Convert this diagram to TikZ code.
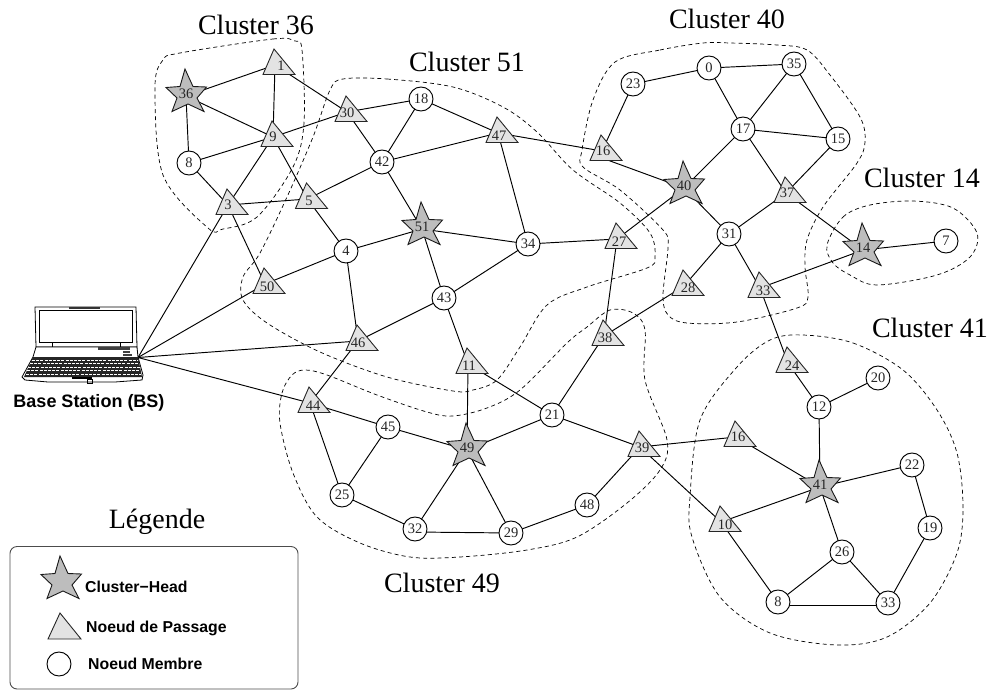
\documentclass[tikz,border=0pt]{standalone}
\usepackage{fontspec}
\setmainfont{Liberation Serif}
\setsansfont{Liberation Sans}
\usetikzlibrary{backgrounds}
\definecolor{trifill}{gray}{0.89}
\definecolor{starfill}{gray}{0.74}
\tikzset{
  link/.style={draw=black,line width=0.95pt},
  clusterline/.style={draw=black,line width=0.7pt,dash pattern=on 4pt off 3.2pt},
  trishape/.style={draw=black!85,fill=trifill,line width=0.9pt,line join=miter},
  starshape/.style={draw=black!90,fill=starfill,line width=0.9pt,line join=miter},
  hub/.style={inner sep=0pt,minimum size=0pt,outer sep=0pt},
  numtext/.style={inner sep=0pt,font=\fontsize{14.5}{15}\selectfont,text=black!85},
  circnodestyle/.style={circle,draw=black,fill=white,line width=0.95pt,minimum size=24pt,inner sep=0pt,font=\fontsize{14.5}{15}\selectfont,text=black!85},
  clustertitle/.style={inner sep=0pt,font=\fontsize{28}{30}\selectfont},
  legendtext/.style={anchor=west,inner sep=0pt,font=\sffamily\bfseries\fontsize{15.8}{17}\selectfont},
}
% name, apex x, apex y, label x, label y, text
\newcommand{\trinode}[6]{%
  \draw[trishape,shift={(#2,#3)}] (0,0) -- (-11,25.5) -- (21,25.5) -- cycle;
  \node[hub] (#1) at ([shift={(1,16)}]#2,#3) {};
  \node[numtext] (#1-text) at (#4,#5) {#6};
}
% name, x, y, text
\newcommand{\starnode}[4]{%
  \draw[starshape,shift={(#2,#3)}] (-1,-27) -- (7,-9.5) -- (20.5,-9) -- (11,2) -- (18,15.5) -- (2,8) -- (-14,15.5) -- (-9,2) -- (-20,-8.5) -- (-6,-9.5) -- cycle;
  \node[hub] (#1) at (#2,#3) {};
  \node[numtext] (#1-text) at (#2,#3-2) {#4};
}
\newcommand{\circnode}[4]{\node[circnodestyle] (#1) at (#2,#3) {#4};}
\begin{document}
\begin{tikzpicture}[x=1pt,y=-1pt]
\useasboundingbox (0,0) rectangle (992,690);

% stars
\starnode{s36}{186}{96}{36}
\starnode{s51}{422}{229}{51}
\starnode{s40}{684}{188}{40}
\starnode{s14}{863}{250}{14}
\starnode{s49}{467}{450}{49}
\starnode{s41}{820}{487}{41}

% triangles
\trinode{t1}{274}{49}{281}{66}{1}
\trinode{t9}{272}{121}{273}{137}{9}
\trinode{t3}{227}{189}{228}{205}{3}
\trinode{t5}{306.5}{183}{309}{200.5}{5}
\trinode{t30}{346}{96}{347}{113}{30}
\trinode{t47}{497}{117}{499}{136}{47}
\trinode{t27}{616}{223}{619}{242}{27}
\trinode{t50}{264}{268}{267}{287}{50}
\trinode{t46}{357}{325}{358}{343}{46}
\trinode{t11}{467}{348}{469}{366}{11}
\trinode{t38}{603}{320}{605}{338}{38}
\trinode{t16a}{601}{135}{603}{151}{16}
\trinode{t37}{785}{177}{787}{193}{37}
\trinode{t28}{683}{270}{688}{288}{28}
\trinode{t33}{759}{272}{763}{291}{33}
\trinode{t44}{309}{387}{313}{406}{44}
\trinode{t39}{639}{431}{642}{448}{39}
\trinode{t24}{787}{347}{792}{366}{24}
\trinode{t16b}{735}{421}{738}{437}{16}
\trinode{t10}{720}{506}{725}{525}{10}

% circles
\circnode{c8a}{189}{163}{8}
\circnode{c18}{421}{99}{18}
\circnode{c42}{382}{162}{42}
\circnode{c4}{346}{251}{4}
\circnode{c34}{528}{244}{34}
\circnode{c43}{444}{298}{43}
\circnode{c23}{633}{84}{23}
\circnode{c0}{709}{68}{0}
\circnode{c35}{794}{64}{35}
\circnode{c17}{743}{129}{17}
\circnode{c15}{838}{139}{15}
\circnode{c31}{729}{234}{31}
\circnode{c7}{946}{241}{7}
\circnode{c45}{388}{427}{45}
\circnode{c21}{552}{415}{21}
\circnode{c25}{342}{495}{25}
\circnode{c32}{415}{529}{32}
\circnode{c29}{511}{533}{29}
\circnode{c48}{587}{505}{48}
\circnode{c12}{819}{407}{12}
\circnode{c20}{878}{378}{20}
\circnode{c22}{912}{465}{22}
\circnode{c19}{930}{528}{19}
\circnode{c26}{842}{552}{26}
\circnode{c8b}{778}{602}{8}
\circnode{c33}{888}{603}{33}

% laptop
\node[hub] (bs) at (138,357.5) {};
\draw[line width=0.8pt,fill=white] (35,307) -- (136,307) -- (137,347) -- (36,347) -- cycle;
\draw[line width=0.8pt] (39,310) rectangle (132,342);
\fill[black!80] (69,306.5) rectangle (100,309);
\draw[line width=0.7pt] (52,342) -- (52,347) (120,342) -- (120,347) (52,342) -- (120,342);
\draw[line width=0.8pt,fill=white] (36,347) -- (137,347) -- (138,357) -- (143,375) -- (142,380) -- (115,382) -- (48,382) -- (25,380) -- (22,377) -- (33,357) -- cycle;
\fill[black!75] (98,347) rectangle (130,350);
\fill[black!75] (123,351) rectangle (130,353);
\fill[black!75] (123,353.6) rectangle (132,356);
\fill[black!85] (33,357) -- (138,357) -- (142,377) -- (24,377) -- cycle;
\foreach \yy/\ll/\rr in {360/32/138,363.5/30/139,367/28/140,370.5/27/140,374/26/141}
  \draw[white,line width=0.6pt,dash pattern=on 3pt off 1.2pt] (\ll,\yy) -- (\rr,\yy);
\draw[line width=1.3pt] (72,378) -- (92,378);
\draw[line width=0.6pt] (87,379) rectangle (92,383);
\node[inner sep=0pt,font=\sffamily\bfseries\fontsize{18}{20}\selectfont] (bslabel) at (89,403) {Base Station (BS)};

% titles
\node[clustertitle] (title36) at (256,25) {Cluster 36};
\node[clustertitle] (title51) at (467,62) {Cluster 51};
\node[clustertitle] (title40) at (727,19) {Cluster 40};
\node[clustertitle] (title14) at (922,178) {Cluster 14};
\node[clustertitle] (title41) at (930,328) {Cluster 41};
\node[clustertitle] (title49) at (442,583) {Cluster 49};
\node[clustertitle] (titlelegend) at (157,522) {Légende};

% legend
\draw[line width=0.9pt,rounded corners=7pt,draw=black!70] (10,546.5) rectangle (298,689);
\draw[starshape,shift={(61,583)}] (-1,-27) -- (7,-9.5) -- (20.5,-9) -- (11,2) -- (18,15.5) -- (2,8) -- (-14,15.5) -- (-9,2) -- (-20,-8.5) -- (-6,-9.5) -- cycle;
\draw[trishape,shift={(60,613)}] (0,0) -- (-12,26) -- (21,26) -- cycle;
\node[circnodestyle] (legendcirc) at (59,664) {};
\node[legendtext] (legendstar) at (85,587) {Cluster−Head};
\node[legendtext] (legendtri) at (86,628.5) {Noeud de Passage};
\node[legendtext] (legendmem) at (88,664) {Noeud Membre};

\begin{scope}[on background layer]
% connectors
\foreach \a/\b in {s36/t1,s36/t9,s36/c8a,t1/t9,t1/t30,c8a/t9,c8a/t3,t9/t3,t9/t30,t9/t5,t3/t5,t3/t50,
  bs/t3,bs/t50,bs/t46,bs/t44,
  t30/c18,t30/c42,c18/c42,c18/t47,c42/t47,c42/t5,c42/s51,t5/c4,c4/s51,c4/t50,c4/t46,s51/c34,s51/c43,t47/c34,t47/t16a,
  c34/t27,c34/c43,c43/t46,c43/t11,t46/t44,t11/s49,t11/c21,t27/s40,t27/t38,t38/t28,t38/c21,
  t16a/c23,c23/c0,c0/c35,c0/c17,c35/c17,c35/c15,c17/c15,c17/s40,c17/t37,c15/t37,s40/c31,c31/t37,c31/t28,c31/t33,
  t37/s14,t33/s14,s14/c7,t33/t24,t24/c12,c12/c20,c12/s41,t16b/s41,t16b/t39,t39/c21,t39/c48,t39/t10,t10/s41,t10/c8b,
  s41/c22,s41/c26,c22/c19,c19/c33,c26/c8b,c26/c33,c21/s49,t44/c45,t44/c25,c45/s49,c45/c25,c25/c32,c32/s49,s49/c29,c29/c48}
  \draw[link] (\a.center) -- (\b.center);
\draw[link] ([shift={(0,7)}]t16a.center) -- (s40.center);
\draw[link] ([shift={(0,3)}]c32.center) -- (c29.center);
\draw[link] ([shift={(0,3)}]c8b.center) -- ([shift={(0,2)}]c33.center);
% cluster outlines
\draw[clusterline] plot[smooth cycle,tension=0.55] coordinates {(180,53) (273,39) (295,41) (302,50) (304,123) (293,167) (257,217) (223,229) (208,228) (163,175) (155,87) (163,60)};
\draw[clusterline] plot[smooth cycle,tension=0.55] coordinates {(343,79) (387,79) (453,87) (503,107) (537,132) (573,170) (620,203) (650,233) (655,257) (647,268) (587,287) (547,305) (520,347) (497,380) (473,390) (453,391) (387,377) (320,352) (267,323) (243,300) (243,277) (260,253) (287,197) (313,137) (330,90)};
\draw[clusterline] plot[smooth cycle,tension=0.55] coordinates {(305,370) (327,375) (377,395) (427,412) (453,416) (487,408) (520,390) (567,343) (587,327) (610,310) (633,313) (645,330) (645,380) (667,440) (660,470) (627,503) (577,537) (527,550) (460,557) (410,557) (360,543) (317,517) (293,473) (280,423) (282,393) (292,375)};
\draw[clusterline] plot[smooth cycle,tension=0.55] coordinates {(615,62) (660,50) (703,43) (730,43) (777,45) (807,50) (830,75) (860,117) (865,142) (857,163) (823,207) (807,240) (805,267) (808,297) (797,308) (737,322) (687,323) (668,315) (663,295) (668,247) (663,230) (620,190) (583,167) (582,150) (593,100)};
\draw[clusterline] plot[smooth cycle,tension=0.55] coordinates {(827,245) (843,217) (870,205) (913,201) (953,208) (977,233) (970,257) (937,275) (877,285) (850,275) (833,263)};
\draw[clusterline] plot[smooth cycle,tension=0.55] coordinates {(803,335) (853,343) (903,370) (937,410) (957,453) (963,507) (957,553) (930,603) (887,637) (837,645) (770,633) (720,597) (692,537) (690,497) (700,420) (737,367) (770,340)};
\end{scope}
\end{tikzpicture}
\end{document}
